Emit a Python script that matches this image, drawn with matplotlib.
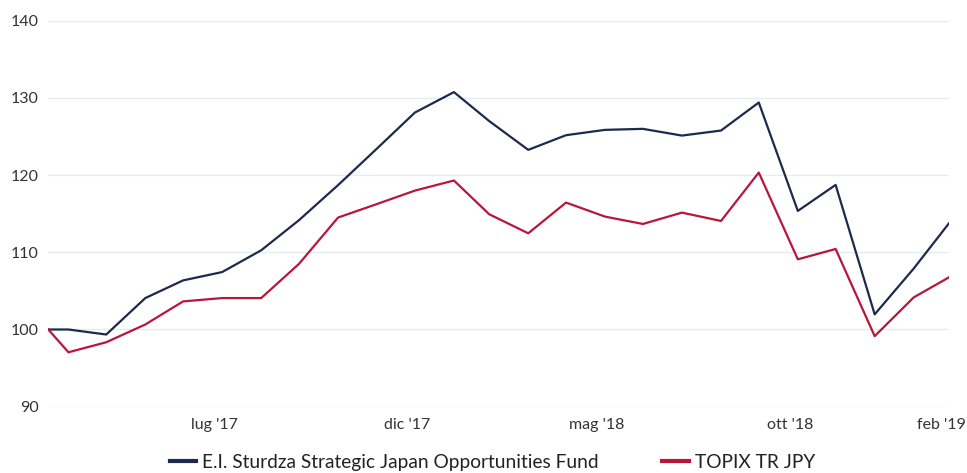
"""
Fund vs TOPIX TR JPY, rebased to 100
"""

import matplotlib
matplotlib.use('Agg')
import matplotlib.pyplot as plt
import matplotlib.transforms as mtransforms
import pandas as pd

dates = ['2017-03-15', '2017-03-31', '2017-04-30', '2017-05-31', '2017-06-30',
         '2017-07-31', '2017-08-31', '2017-09-30', '2017-10-31', '2017-11-30',
         '2017-12-31', '2018-01-31', '2018-02-28', '2018-03-31', '2018-04-30',
         '2018-05-31', '2018-06-30', '2018-07-31', '2018-08-31', '2018-09-30',
         '2018-10-31', '2018-11-30', '2018-12-31', '2019-01-31', '2019-02-28']
fund = [100.0, 100.0, 99.35, 104.07, 106.36, 107.44, 110.26, 114.16, 118.7, 123.3,
        128.1, 130.75, 127.0, 123.27, 125.17, 125.86, 125.99, 125.12, 125.77, 129.4,
        115.36, 118.73, 101.96, 107.9, 113.76]
topix = [100.0, 97.05, 98.35, 100.65, 103.64, 104.07, 104.07, 108.5, 114.5, 116.2,
         117.99, 119.3, 114.93, 112.46, 116.44, 114.62, 113.67, 115.14, 114.06, 120.33,
         109.09, 110.43, 99.14, 104.16, 106.76]
tick_dates = ['2017-07-31', '2017-12-31', '2018-05-31', '2018-10-31', '2019-02-28']
tick_labels = ["lug '17", "dic '17", "mag '18", "ott '18", "feb '19"]
yticks = [90, 100, 110, 120, 130, 140]
names = ['E.I. Sturdza Strategic Japan Opportunities Fund', 'TOPIX TR JPY']

plt.rcParams['font.family'] = ['Lato', 'DejaVu Sans']

x = pd.to_datetime(dates)
fig = plt.figure(figsize=(9.67, 4.73), dpi=100)
ax = fig.add_axes([48.3/967, 1-406.7/473, (949-48.3)/967, (406.7-20.7)/473])

ax.plot(x, fund, color='#1e2a4d', lw=1.6, label=names[0])
ax.plot(x, topix, color='#b8163a', lw=1.6, label=names[1])

ax.set_xlim(x[0], x[-1])
ax.set_ylim(90, 140)
ax.set_yticks(yticks)
ax.set_xticks(pd.to_datetime(tick_dates))
ax.set_xticklabels(tick_labels)
ax.grid(axis='y', color='#e3edf1', lw=1)
ax.set_axisbelow(True)
for s in ax.spines.values():
    s.set_visible(False)
ax.tick_params(length=0, labelsize=11.5, labelcolor='#333333')
ax.tick_params(axis='y', pad=7)
ax.tick_params(axis='x', pad=8)

# labels sit a little left of the month-end points
off = mtransforms.ScaledTranslation(-8/100, 0, fig.dpi_scale_trans)
for lab in ax.get_xticklabels():
    lab.set_transform(lab.get_transform() + off)

fig.legend(loc='center', bbox_to_anchor=(0.509, 0.023), ncol=2, frameon=False,
           fontsize=13.8, handlelength=1.4, handletextpad=0.3, columnspacing=3.3,
           labelcolor='#222222', borderpad=0)
for h in fig.legends[0].get_lines():
    h.set_linewidth(3)

fig.savefig('out.png', dpi=100)
